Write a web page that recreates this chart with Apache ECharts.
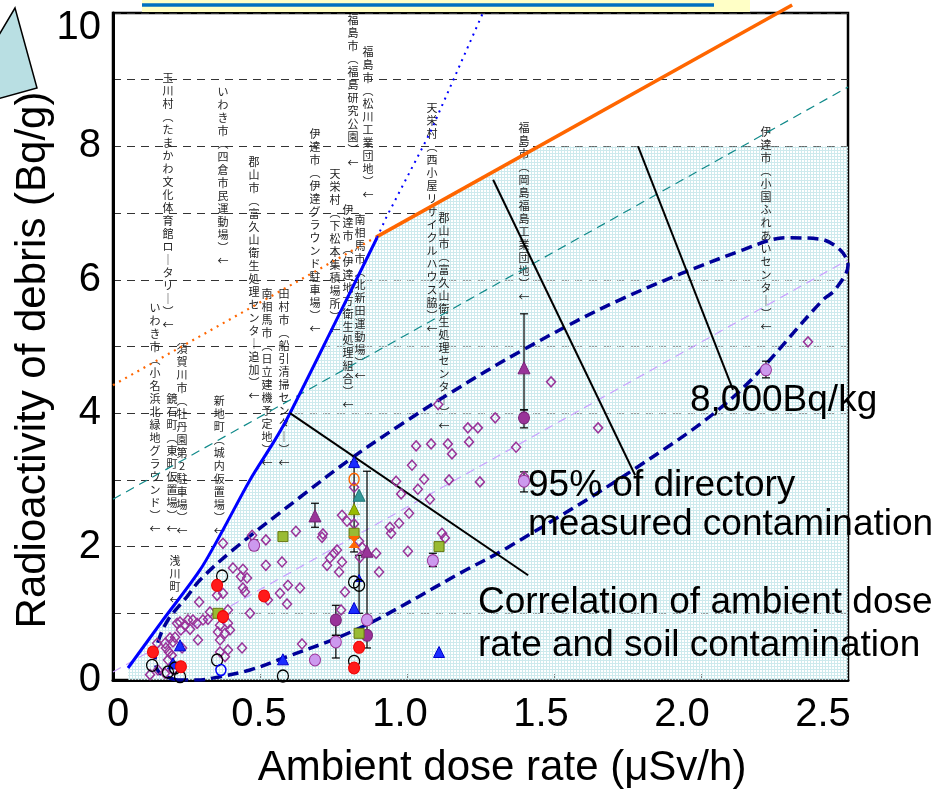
<!DOCTYPE html>
<html>
<head>
<meta charset="utf-8">
<script src="https://cdn.jsdelivr.net/npm/echarts@6/dist/echarts.min.js"></script>
<style>
html, body { margin: 0; padding: 0; background: #fff; }
#chart { width: 939px; height: 790px; }
</style>
</head>
<body>
<div id="chart"></div>
<script>
// ---- data (x: µSv/h, y: Bq/g) ----
const xTicks = [0, 0.5, 1.0, 1.5, 2.0, 2.5];

// upper envelope (blue), its dotted extension, the orange limit line
const blueCurve = [[0.051, 0.18], [0.17, 0.9], [0.296, 1.65], [0.374, 2.25], [0.466, 3.0],
  [0.551, 3.6], [0.602, 4.0], [0.748, 5.29], [0.898, 6.63]];
const blueDotted = [[0.898, 6.63], [0.93, 6.94], [1.078, 8.2], [1.258, 10.0]];
const orangeSolid = [[0.895, 6.64], [2.31, 10.12]];
const orangeDotted = [[0, 4.42], [0.895, 6.64]];
const tealDashed = [[0, 2.71], [2.5, 8.89]];
const lilacDashed = [[0, 0.12], [2.5, 6.3]];
const shadeTop = [[1.44, 8.0], [2.5, 8.0]];

// 95 % region outline
const ellipse95 = [[0.218, 0.0], [0.286, 0.0], [0.364, 0.05], [0.466, 0.15], [0.58, 0.33],
  [0.762, 0.63], [0.908, 0.93], [1.18, 1.6], [1.34, 1.98], [1.769, 3.15], [2.109, 4.24],
  [2.415, 5.7], [2.456, 5.85], [2.5, 6.22], [2.473, 6.45], [2.405, 6.61], [2.293, 6.63],
  [2.143, 6.45], [1.724, 5.7], [1.395, 4.95], [1.146, 4.3], [0.976, 3.82], [0.816, 3.34],
  [0.636, 2.74], [0.408, 1.95], [0.296, 1.5], [0.252, 1.25], [0.187, 0.9], [0.153, 0.57],
  [0.143, 0.3], [0.16, 0.1], [0.218, 0.0]];

// callout lines
const callout1 = [[0.602, 4.0], [1.412, 1.57]];
const callout2 = [[1.293, 7.5], [1.776, 3.07]];
const callout3 = [[1.786, 8.0], [2.109, 4.35]];

// measured points
const diamondPts = [
  [1.031, 3.51], [1.082, 3.54], [1.139, 3.54], [1.153, 3.39], [1.017, 3.22], [1.058, 3.01],
  [0.963, 2.98], [1.143, 3.0], [1.037, 2.86], [0.98, 2.79], [1.078, 2.71], [1.007, 2.5],
  [0.82, 2.89], [0.779, 2.47], [0.796, 2.38], [0.82, 2.34], [0.973, 2.35], [0.942, 2.29],
  [0.946, 2.2], [1.119, 2.2], [1.129, 2.13], [0.714, 2.19], [0.711, 2.14], [0.622, 2.23],
  [1.003, 1.93], [0.895, 1.9], [0.837, 2.08], [0.847, 1.99], [0.84, 1.84], [0.762, 1.95],
  [0.752, 1.9], [0.738, 1.83], [0.728, 1.72], [0.779, 1.77], [0.769, 1.62], [0.905, 1.62],
  [0.575, 1.77], [0.595, 1.42], [0.636, 1.38], [0.789, 1.32], [0.592, 1.14], [0.776, 1.05],
  [0.643, 0.54],
  [1.49, 4.47], [1.106, 4.13], [1.3, 3.93], [1.207, 3.78], [1.241, 3.78], [1.65, 3.78],
  [1.211, 3.57], [1.371, 3.49], [1.248, 2.97], [2.364, 5.07], [1.398, 3.05],
  [0.473, 2.17], [0.52, 2.1], [0.374, 2.05], [0.408, 1.68], [0.442, 1.66], [0.52, 1.72],
  [0.435, 1.55], [0.456, 1.53], [0.442, 1.38],
  [0.449, 1.32], [0.354, 1.27], [0.374, 1.3], [0.293, 1.17], [0.527, 1.2], [0.568, 1.3],
  [0.466, 1.0], [0.391, 1.05], [0.33, 1.02], [0.323, 0.91], [0.306, 0.9], [0.286, 0.85],
  [0.272, 0.9], [0.255, 0.9], [0.245, 0.82], [0.228, 0.87], [0.218, 0.85], [0.262, 0.76],
  [0.231, 0.75], [0.211, 0.64], [0.194, 0.63], [0.204, 0.57], [0.235, 0.48], [0.18, 0.48],
  [0.19, 0.42], [0.2, 0.37], [0.187, 0.3], [0.177, 0.55], [0.15, 0.55], [0.289, 0.6],
  [0.364, 0.6], [0.381, 0.7], [0.357, 0.72], [0.364, 0.82], [0.391, 0.85], [0.398, 0.75],
  [0.439, 0.48], [0.364, 0.42], [0.391, 0.45], [0.381, 0.35], [0.126, 0.08], [0.153, 0.15],
  [0.204, 0.15], [0.177, 0.1]
];
const lilacCirclePts = [[0.48, 2.02], [1.088, 1.79], [1.398, 2.98], [2.221, 4.65], [0.758, 0.57],
  [0.687, 0.3], [0.864, 0.9]];
const plumCirclePts = [[1.398, 3.93], [0.758, 0.9], [0.864, 0.67]];
const plumTrianglePts = [[1.398, 4.68], [0.687, 2.46], [0.864, 1.93]];
const blueTrianglePts = [[0.82, 3.27], [0.82, 1.08], [0.578, 0.31], [1.109, 0.42], [0.228, 0.52],
  [0.204, 0.25]];
const blueSmallTrianglePts = [[0.837, 1.53]];
const tealTrianglePts = [[0.837, 2.77]];
const oliveTrianglePts = [[0.82, 2.56]];
const greenSquarePts = [[0.82, 2.2], [0.578, 2.15], [1.109, 2.0], [0.837, 0.7], [0.357, 1.0]];
const orangeCirclePts = [[0.82, 3.01]];
const orangeBowPts = [[0.82, 2.07]];
const blackCirclePts = [[0.82, 1.47], [0.837, 1.42], [0.371, 1.56], [0.354, 0.3], [0.82, 0.28],
  [0.578, 0.06], [0.133, 0.22], [0.211, 0.18], [0.187, 0.12], [0.228, 0.05]];
const blueCirclePts = [[0.367, 0.15]];
const redCirclePts = [[0.354, 1.42], [0.514, 1.26], [0.374, 0.95], [0.136, 0.42], [0.231, 0.2],
  [0.837, 0.49], [0.82, 0.18]];

// error bars: x, low, high
const errorBars = [[0.864, 0.48, 3.13], [0.687, 2.29, 2.65], [0.758, 0.67, 1.12], [0.758, 0.33, 0.67],
  [1.088, 1.7, 1.9], [1.398, 2.82, 3.12], [1.398, 4.05, 5.49], [1.398, 3.78, 4.05],
  [2.221, 4.53, 4.78], [0.48, 1.95, 2.1], [0.82, 1.92, 3.27], [0.837, 1.0, 1.87]];

// site names (vertical), anchored at the top of each column
const siteX = [0.187, 0.374, 0.48, 0.687, 0.755, 0.816, 0.867, 0.799, 0.84, 1.085, 1.126,
  1.398, 2.221, 0.143, 0.235, 0.201, 0.361, 0.211, 0.524, 0.582];
const siteY = [9.12, 8.91, 7.86, 8.29, 7.69, 9.99, 9.51, 7.14, 6.99, 8.68, 7.02,
  8.38, 8.31, 5.67, 5.07, 4.32, 4.29, 1.89, 5.89, 5.89];
const siteNames = [
  '玉川村（たまかわ文化体育館ロータリー）', 'いわき市（四倉市民運動場）',
  '郡山市（富久山衛生処理センター追加）', '伊達市（伊達グラウンド駐車場）',
  '天栄村（下松本集積場所）', '福島市（福島研究公園）', '福島市（松川工業団地）',
  '伊達市（伊達地方衛生処理組合）', '南相馬市（北新田運動場）',
  '天栄村（西小屋リサイクルハウス脇）', '郡山市（富久山衛生処理センター）',
  '福島市（岡島福島工業団地）', '伊達市（小国ふれあいセンター）',
  'いわき市（小名浜北緑地グラウンド）', '須賀川市（牡丹園第2駐車場）',
  '鏡石町（東町仮置場）', '新地町（城内仮置場）', '浅川町',
  '南相馬市（日立建機予定地）', '田村市（船引清掃センター）'
];

// ---- chart ----
const FONT = '"Liberation Sans", Arial, sans-serif';
const JP = '"Noto Sans CJK JP", sans-serif';

function verticalText(s) {
  const map = { '（': '︵', '）': '︶', 'ー': '｜' };
  return s.split('').map(c => map[c] || c).concat(['←']).join('\n');
}

// fine cyan grid used as the shaded region fill
const pat = document.createElement('canvas');
pat.width = 3; pat.height = 3;
const pg = pat.getContext('2d');
pg.fillStyle = 'rgba(255,255,255,0.5)';
pg.fillRect(0, 0, 3, 3);
pg.fillStyle = '#cdeaed';
pg.fillRect(0, 0, 3, 1);
pg.fillRect(0, 0, 1, 3);

function line(data, color, width, type, extra) {
  return Object.assign({
    type: 'line', data: data, symbol: 'none', silent: true, z: 3,
    lineStyle: { color: color, width: width, type: type }
  }, extra || {});
}

function dots(data, symbol, size, color, border, bw) {
  return {
    type: 'scatter', data: data, symbol: symbol, symbolSize: size, z: 6, silent: true,
    itemStyle: { color: color, borderColor: border, borderWidth: bw, opacity: 1 }
  };
}

const chart = echarts.init(document.getElementById('chart'));

chart.setOption({
  animation: false,
  backgroundColor: '#fff',
  grid: [
    { left: 113, right: 91, top: 13, bottom: 110, show: true, borderColor: '#000', borderWidth: 2.5 },
    { left: 118, right: 116, top: 13, bottom: 110, show: false }
  ],
  xAxis: [
    {
      type: 'value', gridIndex: 0, min: 0, max: 2.5, interval: 0.5,
      axisLine: { lineStyle: { color: '#000', width: 3 } },
      axisTick: { inside: true, length: 6, lineStyle: { color: '#000', width: 1 } },
      axisLabel: { show: false },
      splitLine: { show: false }
    },
    {
      type: 'value', gridIndex: 1, min: 0, max: 2.5, interval: 0.5,
      axisLine: { show: false }, axisTick: { show: false }, splitLine: { show: false },
      axisLabel: {
        fontSize: 40, fontFamily: FONT, color: '#000', margin: 15,
        showMinLabel: true, showMaxLabel: true,
        formatter: v => v === 0 ? '0' : v.toFixed(1)
      }
    }
  ],
  yAxis: [
    {
      type: 'value', gridIndex: 0, min: 0, max: 10, interval: 1,
      axisLine: { lineStyle: { color: '#000', width: 3 } },
      axisTick: { show: false },
      splitLine: { lineStyle: { color: '#333', width: 1, type: [8, 6] } },
      axisLabel: {
        fontSize: 40, fontFamily: FONT, color: '#000', margin: 12,
        showMinLabel: true, showMaxLabel: true,
        formatter: v => v === 10 ? '{hi|10}' : (v % 2 === 0 ? String(v) : ''),
        rich: { hi: { fontSize: 40, fontFamily: FONT, color: '#000', padding: [30, 0, 0, 0] } }
      }
    },
    { type: 'value', gridIndex: 1, min: 0, max: 10, show: false }
  ],
  graphic: [
    { type: 'text', x: 33, y: 360, rotation: Math.PI / 2, z: 10,
      style: { text: 'Radioactivity of debris (Bq/g)', font: '42px ' + FONT, fill: '#000',
        align: 'center', verticalAlign: 'middle' } },
    { type: 'polygon', shape: { points: [[15, 8], [37, 88], [-10, 101], [-10, 50]] },
      style: { fill: '#b9dfe3', stroke: '#000', lineWidth: 1.5 }, z: 11 },
    { type: 'rect', shape: { x: 142, y: -10, width: 608, height: 22 },
      style: { fill: '#ffffc6' }, z: 10 },
    { type: 'line', shape: { x1: 142, y1: 5, x2: 714, y2: 5 },
      style: { stroke: '#0070c0', lineWidth: 3.5 }, z: 11 },
    { type: 'text', x: 502, y: 768, z: 10,
      style: { text: 'Ambient dose rate (μSv/h)', font: '42px ' + FONT, fill: '#000',
        align: 'center', verticalAlign: 'middle' } },
    { type: 'text', x: 690, y: 401, z: 10,
      style: { text: '8,000Bq/kg', font: '37px ' + FONT, fill: '#000', align: 'left', verticalAlign: 'middle' } },
    { type: 'text', x: 528, y: 486, z: 10,
      style: { text: '95% of directory', font: '37px ' + FONT, fill: '#000', align: 'left', verticalAlign: 'middle' } },
    { type: 'text', x: 528, y: 525, z: 10,
      style: { text: 'measured contamination', font: '37px ' + FONT, fill: '#000', align: 'left', verticalAlign: 'middle' } },
    { type: 'text', x: 478, y: 603, z: 10,
      style: { text: 'Correlation of ambient dose', font: '37px ' + FONT, fill: '#000', align: 'left', verticalAlign: 'middle' } },
    { type: 'text', x: 478, y: 646, z: 10,
      style: { text: 'rate and soil contamination', font: '37px ' + FONT, fill: '#000', align: 'left', verticalAlign: 'middle' } }
  ],
  series: [
    // shaded region under the envelope
    {
      type: 'line', data: blueCurve.concat(shadeTop), symbol: 'none', silent: true, z: 1,
      lineStyle: { width: 0 },
      areaStyle: { color: { image: pat, repeat: 'repeat' }, opacity: 1 }
    },
    // site names
    {
      type: 'custom', z: 2, silent: true, clip: false,
      data: siteX.map((x, i) => [x, siteY[i]]),
      renderItem: function (params, api) {
        const p = api.coord([api.value(0), api.value(1)]);
        return {
          type: 'text', x: p[0], y: p[1],
          style: {
            text: verticalText(siteNames[params.dataIndex]), fill: '#222',
            fontSize: 11, fontFamily: JP, lineHeight: 13,
            align: 'center', verticalAlign: 'top'
          }
        };
      }
    },
    line(tealDashed, '#108a8a', 1.2, [9, 6]),
    line(lilacDashed, '#c9a0ff', 1.2, [9, 6]),
    line(orangeDotted, '#ff6600', 2.2, [2, 5]),
    line(orangeSolid, '#ff6600', 3.5, 'solid', { clip: false }),
    line(blueCurve, '#0000ff', 3, 'solid', { smooth: 0.3 }),
    line(blueDotted, '#0000ff', 2, [2, 5]),
    line(ellipse95, '#000099', 3.5, [11, 6], { smooth: 0.35 }),
    line(callout1, '#000', 2, 'solid'),
    line(callout2, '#000', 2, 'solid'),
    line(callout3, '#000', 2, 'solid'),
    // error bars
    {
      type: 'custom', z: 4, silent: true,
      data: errorBars,
      encode: { x: 0, y: [1, 2] },
      renderItem: function (params, api) {
        const x = api.value(0);
        const a = api.coord([x, api.value(1)]);
        const b = api.coord([x, api.value(2)]);
        const w = 4;
        const st = { stroke: '#000', lineWidth: 1.2 };
        return {
          type: 'group',
          children: [
            { type: 'line', shape: { x1: a[0], y1: a[1], x2: b[0], y2: b[1] }, style: st },
            { type: 'line', shape: { x1: a[0] - w, y1: a[1], x2: a[0] + w, y2: a[1] }, style: st },
            { type: 'line', shape: { x1: b[0] - w, y1: b[1], x2: b[0] + w, y2: b[1] }, style: st }
          ]
        };
      }
    },
    dots(diamondPts, 'diamond', [9, 10], 'rgba(255,255,255,0)', '#993399', 1.5),
    dots(lilacCirclePts, 'circle', [11, 12], '#cc99ee', '#993399', 1),
    dots(plumCirclePts, 'circle', [11, 12], '#993399', '#772277', 1),
    dots(plumTrianglePts, 'triangle', 12, '#993399', '#772277', 1),
    dots(blueTrianglePts, 'triangle', 11, '#1a2cff', '#0000cc', 1),
    dots(blueSmallTrianglePts, 'triangle', 7, '#1a2cff', '#0000cc', 1),
    dots(tealTrianglePts, 'triangle', 12, '#339999', '#227777', 1),
    dots(oliveTrianglePts, 'triangle', 11, '#99bb00', '#778800', 1),
    dots(greenSquarePts, 'rect', 10, '#99bb33', '#667711', 1),
    dots(orangeCirclePts, 'circle', [10, 12], 'rgba(255,255,255,0)', '#ff6600', 1.5),
    dots(orangeBowPts, 'path://M0,0L10,0L0,10L10,10Z', [9, 11], '#ff6600', '#ff6600', 1),
    dots(blackCirclePts, 'circle', [11, 12], 'rgba(255,255,255,0)', '#000', 1.3),
    dots(blueCirclePts, 'circle', [10, 11], 'rgba(255,255,255,0)', '#0000ff', 1.5),
    dots(redCirclePts, 'circle', [11, 12], '#ff1a1a', '#ee0000', 1)
  ]
});
</script>
</body>
</html>
